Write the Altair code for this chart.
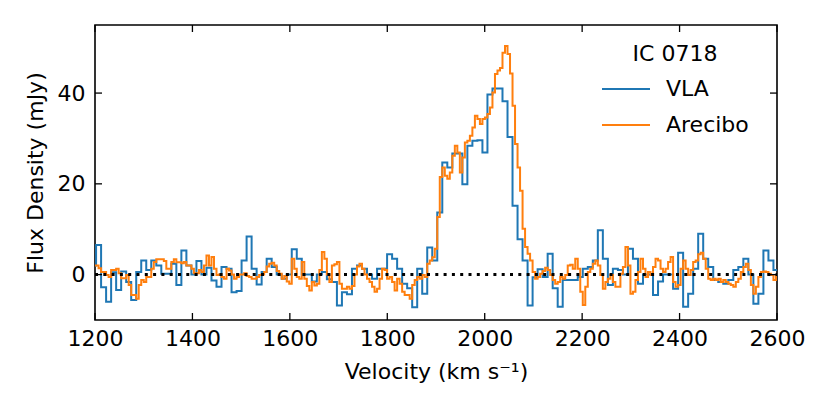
import altair as alt
import pandas as pd

# ---- data ----
VLA_START = 1191.9      # left edge of first VLA channel (km/s)
VLA_WIDTH = 10.3        # VLA channel width (km/s)
VLA_FLUX = [
    2.0, 6.5, -2.8, -6.0, 0.5, -3.4, 0.7, -1.6, -5.6, 0.6,
    3.1, 1.0, 3.1, 2.0, 0.2, 0.2, 2.4, -2.3, 5.3, 2.0,
    0.0, 3.0, 0.0, 1.5, -1.3, -2.7, 1.7, 1.3, -3.9, -3.6,
    3.1, 8.4, 1.3, -2.2, 0.6, 3.5, 1.7, 0.0, -0.9, 0.0,
    5.6, 3.5, 0.0, 0.0, -1.5, 0.0, 0.6, -1.0, -1.6, -6.8,
    -3.9, -4.3, 1.3, 2.0, 1.3, 0.0, -0.9, 1.3, 1.3, 4.5,
    3.5, 1.3, -2.0, -3.0, -7.2, 1.3, -4.2, 6.0, 3.1, 13.7,
    24.7, 23.6, 26.7, 26.7, 19.9, 28.4, 29.5, 29.6, 26.9, 39.7,
    41.0, 41.0, 38.2, 30.3, 15.2, 7.8, 3.1, -6.8, -0.6, 1.2,
    -0.5, 4.6, -3.0, -7.1, -1.2, -1.2, -1.2, -0.5, 1.3, 1.7,
    3.1, 9.8, 3.5, -2.3, 1.3, 1.0, 0.0, 5.7, 3.5, -2.0,
    0.0, 0.0, -4.5, -1.5, 0.0, 0.0, -3.1, 4.8, -7.1, -4.2,
    1.3, 9.0, 3.5, 1.7, -1.2, -1.6, -2.0, -1.2, 1.0, 1.7,
    3.5, 0.0, -6.4, -4.2, 5.3, 3.1, 1.0,
]

ARECIBO_START = 1191.9  # left edge of first Arecibo channel (km/s)
ARECIBO_WIDTH = 5.15    # Arecibo channel width (km/s)
ARECIBO_FLUX = [
    2.0, 2.0, 2.0, 1.4, 0.6, 0.6, -0.1, -0.5, 1.0, 1.0,
    1.3, 0.3, -0.8, -0.8, -0.1, -2.3, -4.5, -4.5, -5.3, -2.3,
    -1.2, -1.6, -0.5, -0.5, 1.3, 2.8, 3.4, 3.4, 3.4, 3.0,
    1.3, 1.3, 2.8, 3.4, 2.7, 2.7, 2.5, 2.8, 2.0, 2.0,
    1.3, 0.3, 0.3, 1.0, 0.6, 2.0, 4.2, 2.0, 3.9, 1.3,
    -0.1, 0.0, -0.5, -0.9, 1.3, 0.9, 0.0, -0.9, -0.5, 0.0,
    0.0, 0.3, -0.3, -0.5, -0.9, -0.9, -0.5, -0.1, 0.0, 0.6,
    1.8, 2.4, 2.6, 2.0, 0.8, 0.2, -0.9, -0.3, -1.5, -2.0,
    3.5, 1.3, -0.5, -0.9, 2.8, -0.9, -2.5, -3.5, -1.6, -2.4,
    -2.0, 1.0, 5.0, 3.5, 0.0, -1.6, 2.0, 2.3, 2.8, -2.0,
    -3.1, -3.1, -2.7, -3.1, -2.5, 0.0, 1.8, 2.4, 1.3, 0.0,
    -0.9, -1.6, -2.7, -3.8, -3.1, -0.9, 1.3, 1.0, -0.9, -0.5,
    -1.6, -3.5, -0.9, -2.0, -3.8, -4.5, -4.5, -5.3, -2.3, -1.2,
    -0.5, -0.9, -0.1, -0.5, 2.4, 3.1, 3.8, 5.7, 12.7, 21.5,
    23.6, 21.8, 21.1, 22.5, 26.2, 28.4, 26.9, 22.5, 25.8, 29.1,
    29.5, 30.6, 32.4, 35.0, 34.3, 33.2, 34.3, 34.6, 35.4, 36.8,
    40.1, 44.2, 45.0, 45.5, 48.9, 50.4, 48.6, 44.3, 37.2, 28.8,
    23.6, 18.5, 10.1, 6.1, 4.6, 3.1, 0.6, -0.9, -0.5, 0.2,
    0.8, 1.5, 1.0, -0.1, -1.2, -2.0, -1.6, -0.5, -0.9, -0.1,
    2.0, 2.2, 1.3, 3.5, 1.3, -3.8, -6.7, -2.7, 0.6, 1.3,
    2.4, 3.1, 2.0, -0.1, -3.1, -1.6, -0.9, -0.1, -1.6, -2.7,
    -2.7, 0.2, 1.7, 6.1, 2.0, -4.2, -3.8, -1.2, 0.6, 3.5,
    1.3, -0.5, 0.6, -0.1, 1.7, 3.5, 3.1, 1.3, 0.6, 1.3,
    2.8, 3.9, -1.6, -2.7, -2.3, 1.3, 3.1, 1.3, -0.1, 1.0,
    2.8, 3.1, 4.5, 4.8, 3.5, 1.3, -0.9, -1.2, -0.9, -1.2,
    -0.9, -1.6, -1.2, -1.6, -2.0, -2.3, -2.7, -1.6, -0.9, 0.6,
    1.7, 2.4, 1.0, -2.3, -4.2, -2.7, -0.5, 0.6, 0.7, 0.6,
    0.2, -0.1, -1.2, -0.1,
]

X_TICKS = [1200, 1400, 1600, 1800, 2000, 2200, 2400, 2600]
Y_TICKS = [0, 20, 40]
SERIES = ["VLA", "Arecibo"]
COLORS = ["#1f77b4", "#ff7f0e"]
LEGEND_TITLE = "IC 0718"


def steps(start, width, flux, name):
    v = [start + width * i for i in range(len(flux) + 1)]
    f = list(flux) + [flux[-1]]
    return pd.DataFrame({"v": v, "flux": f, "src": name})


vla_df = steps(VLA_START, VLA_WIDTH, VLA_FLUX, SERIES[0])
are_df = steps(ARECIBO_START, ARECIBO_WIDTH, ARECIBO_FLUX, SERIES[1])
xt_df = pd.DataFrame({"t": X_TICKS})
yt_df = pd.DataFrame({"t": Y_TICKS})
zero_df = pd.DataFrame({"z": [0]})

W, H = 682, 295
FONT = "DejaVu Sans"
FS = 22
TICK = 7

xs = alt.Scale(domain=[1200, 2600], nice=False, zero=False, padding=0)
ys = alt.Scale(domain=[-10, 55], nice=False, zero=False, padding=0)

x_axis = alt.Axis(values=X_TICKS, title="Velocity (km s⁻¹)", ticks=False,
                  domain=False, grid=False, labelPadding=8, titlePadding=12,
                  labelFlush=False, labelOverlap=False,
                  format="d", labelFontSize=FS, titleFontSize=FS,
                  titleFontWeight="normal", labelColor="black", titleColor="black")
y_axis = alt.Axis(values=Y_TICKS, title="Flux Density (mJy)", ticks=False,
                  domain=False, grid=False, labelPadding=10, titlePadding=10,
                  labelFlush=False, labelOverlap=False,
                  format="d", labelFontSize=FS, titleFontSize=FS,
                  titleFontWeight="normal", labelColor="black", titleColor="black")

color_scale = alt.Scale(domain=SERIES, range=COLORS)
legend = alt.Legend(title=LEGEND_TITLE, orient="none", legendX=506, legendY=19,
                    symbolType="stroke", symbolSize=2304, symbolStrokeWidth=2,
                    labelFontSize=FS, titleFontSize=FS, titleFontWeight="normal",
                    titleAnchor="middle", labelOffset=15, padding=0,
                    titlePadding=-2, rowPadding=-3,
                    labelColor="black", titleColor="black")
color_enc = alt.Color("src:N", scale=color_scale, legend=legend)

vla = alt.Chart(vla_df).mark_line(interpolate="step-after", strokeWidth=2, clip=True).encode(
    x=alt.X("v:Q", scale=xs, axis=x_axis),
    y=alt.Y("flux:Q", scale=ys, axis=y_axis),
    color=color_enc,
)
are = alt.Chart(are_df).mark_line(interpolate="step-after", strokeWidth=2, clip=True).encode(
    x=alt.X("v:Q", scale=xs, axis=x_axis),
    y=alt.Y("flux:Q", scale=ys, axis=y_axis),
    color=color_enc,
)
zero = alt.Chart(zero_df).mark_rule(color="black", strokeWidth=3, strokeDash=[3, 5.3]).encode(
    y=alt.Y("z:Q", scale=ys, axis=y_axis),
    x=alt.value(0), x2=alt.value(W),
)
tick_style = dict(color="black", strokeWidth=1.3)
bottom = alt.Chart(xt_df).mark_rule(**tick_style).encode(
    x=alt.X("t:Q", scale=xs, axis=x_axis), y=alt.value(H), y2=alt.value(H - TICK))
top = alt.Chart(xt_df).mark_rule(**tick_style).encode(
    x=alt.X("t:Q", scale=xs, axis=x_axis), y=alt.value(0), y2=alt.value(TICK))
left = alt.Chart(yt_df).mark_rule(**tick_style).encode(
    y=alt.Y("t:Q", scale=ys, axis=y_axis), x=alt.value(0), x2=alt.value(TICK))
right = alt.Chart(yt_df).mark_rule(**tick_style).encode(
    y=alt.Y("t:Q", scale=ys, axis=y_axis), x=alt.value(W), x2=alt.value(W - TICK))

chart = alt.layer(vla, are, zero, bottom, top, left, right).properties(
    width=W, height=H,
    autosize=alt.AutoSizeParams(type="none"),
    padding={"left": 87, "top": 17, "right": 45, "bottom": 70},
    background="white",
).configure(font=FONT).configure_view(stroke="black", strokeWidth=1.6)

chart.save("out.html", embed_options={"renderer": "svg", "actions": False})
